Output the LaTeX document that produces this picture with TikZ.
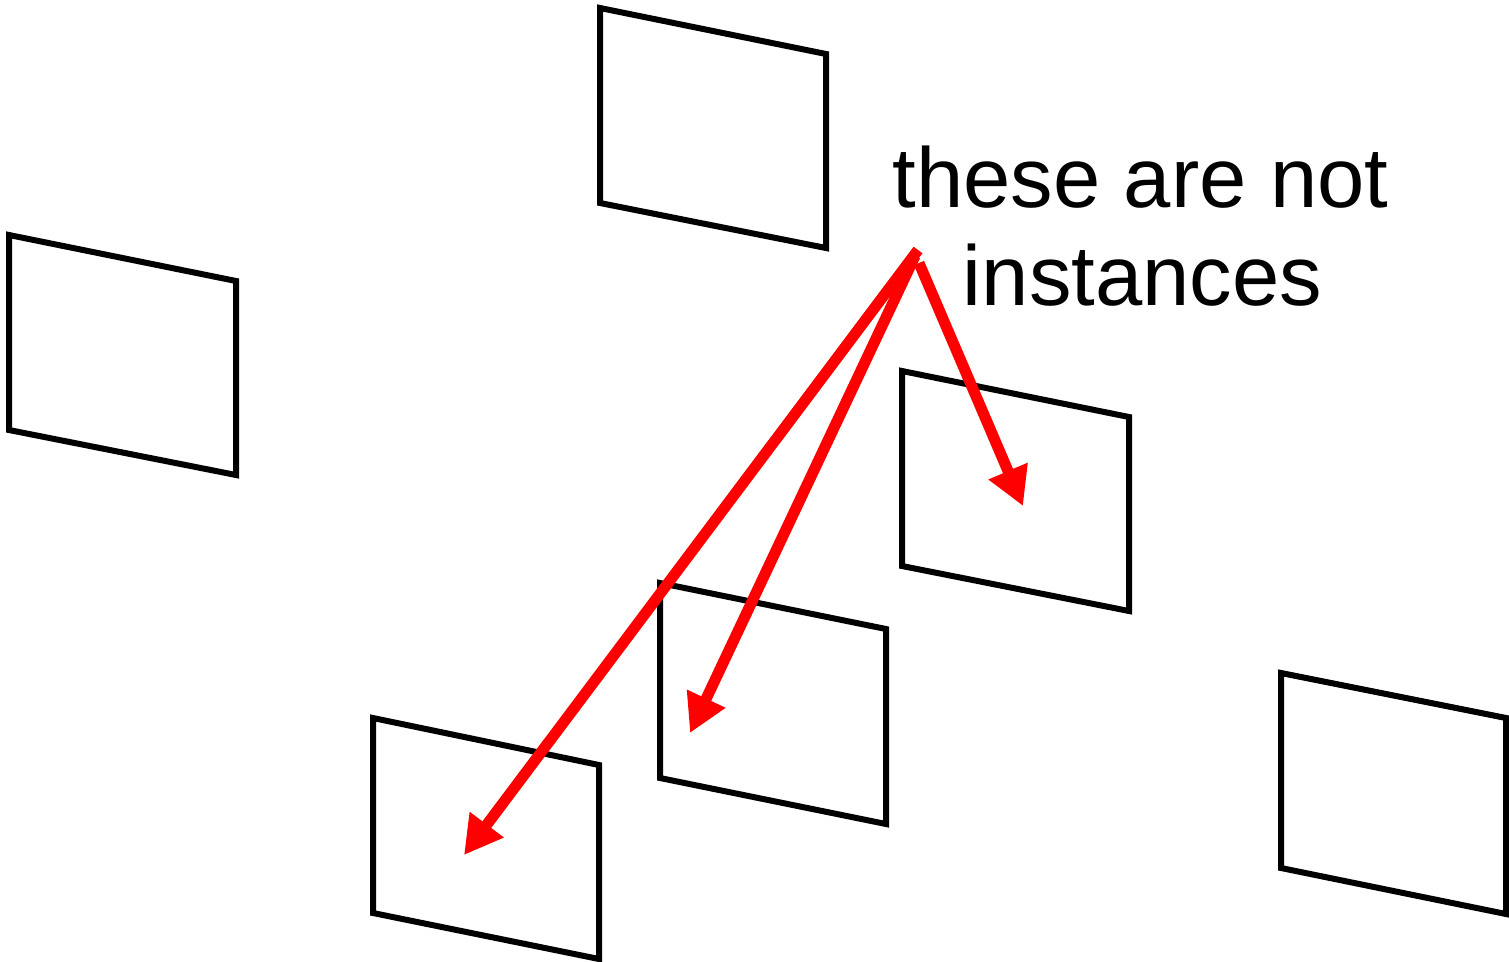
\documentclass[tikz,border=0pt]{standalone}
\usepackage{fontspec}
\setmainfont{Liberation Sans}
\usetikzlibrary{arrows.meta}
\begin{document}
\begin{tikzpicture}[x=1pt,y=-1pt,
  frame/.style={draw=black,line width=6pt,line join=miter},
  redarrow/.style={draw=red,line width=11pt,-{Triangle[length=38pt,width=40pt]}},
  label/.style={font=\fontsize{85}{98}\selectfont,anchor=base,inner sep=0pt}]
\useasboundingbox (0,0) rectangle (1509,961);
% parallelograms
\draw[frame] (600,8) -- (826,54) -- (826,248) -- (600,203) -- cycle;
\draw[frame] (9,235) -- (236,281) -- (236,475) -- (9,430) -- cycle;
\draw[frame] (902,371) -- (1129,417) -- (1129,611) -- (902,566) -- cycle;
\draw[frame] (660,583) -- (886,629) -- (886,824) -- (660,778) -- cycle;
\draw[frame] (373,718) -- (599,765) -- (599,959) -- (373,913) -- cycle;
\draw[frame] (1281,673) -- (1506,718) -- (1506,914) -- (1281,868) -- cycle;
% text
\node[label] (l1) at (1140.5,207) {these are not};
\node[label] (l2) at (1142.5,305) {instances};
% arrows
\coordinate (s1) at (918,250);
\coordinate (s2) at (915,256);
\coordinate (s3) at (919,263);
\coordinate (t1) at (464,855);
\coordinate (t2) at (690,733);
\coordinate (t3) at (1023,506);
\draw[redarrow] (s1) -- (t1);
\draw[redarrow] (s2) -- (t2);
\draw[redarrow] (s3) -- (t3);
\end{tikzpicture}
\end{document}
